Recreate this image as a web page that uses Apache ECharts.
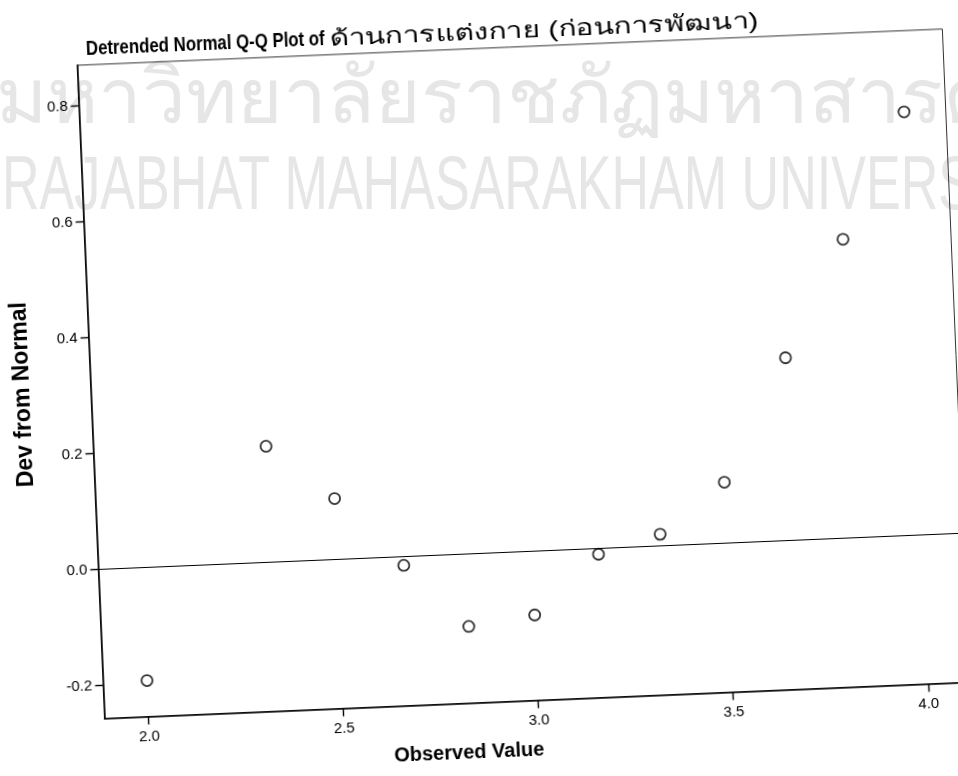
<!DOCTYPE html>
<html>
<head>
<meta charset="utf-8">
<script src="https://cdn.jsdelivr.net/npm/echarts@6/dist/echarts.min.js"></script>
<style>
html, body { margin: 0; padding: 0; background: #fff; overflow: hidden; }
#bg, #main { position: absolute; left: 0; top: 0; width: 958px; height: 776px; }
/* the scan is tilted a little, so the whole chart is turned with it */
#main { transform: rotate(-2.4deg); transform-origin: 523px 376px; }
</style>
</head>
<body>
<div id="bg"></div>
<div id="main"></div>
<script>
var observed = [2.00, 2.33, 2.50, 2.67, 2.83, 3.00, 3.17, 3.33, 3.50, 3.67, 3.83, 4.00];
var devFromNormal = [-0.195, 0.20, 0.105, -0.015, -0.125, -0.11, -0.01, 0.02, 0.105, 0.315, 0.515, 0.73];
var xTicks = [2.0, 2.5, 3.0, 3.5, 4.0];
var yTicks = [-0.2, 0.0, 0.2, 0.4, 0.6, 0.8];

var titleLatin = 'Detrended Normal Q-Q Plot of ';
var titleThai = 'ด้านการแต่งกาย (ก่อนการพัฒนา)';

var font = "'Liberation Sans', Arial, 'Noto Sans', 'DejaVu Sans', sans-serif";

// width of the latin part, so the thai part can follow it
var latinScale = 0.8;
var ctx = document.createElement('canvas').getContext('2d');
ctx.font = "bold 21px " + font;
var latinW = ctx.measureText(titleLatin).width * latinScale;

// watermark of the scanned page, not tilted
var bg = echarts.init(document.getElementById('bg'));
bg.setOption({
    graphic: [
        {
            type: 'text', left: -4, top: 62,
            style: { text: 'มหาวิทยาลัยราชภัฏมหาสารคาม', fontSize: 78, fill: '#e6e6e6', fontFamily: font }
        },
        {
            type: 'text', x: 2, y: 150, scaleX: 0.685,
            style: { text: 'RAJABHAT MAHASARAKHAM UNIVERSITY', fontSize: 76, fill: '#e6e6e6', fontFamily: font }
        }
    ]
});

var chart = echarts.init(document.getElementById('main'));
var points = observed.map(function (v, i) { return [v, devFromNormal[i]]; });

var option = {
    backgroundColor: 'transparent',
    animation: false,
    graphic: [
        {
            type: 'text', x: 100, y: 42, scaleX: latinScale,
            style: { text: titleLatin, fontSize: 21, fontWeight: 'bold', fill: '#000', fontFamily: font, verticalAlign: 'bottom' }
        },
        {
            type: 'text', x: 100 + latinW, y: 43, scaleX: 1.36,
            style: { text: titleThai, fontSize: 22, fill: '#000', fontFamily: font, verticalAlign: 'bottom' }
        }
    ],
    grid: {
        show: true,
        left: 90.5, top: 46.9, width: 866, height: 653.6,
        borderColor: '#333', borderWidth: 1
    },
    xAxis: {
        type: 'value',
        min: 1.887, max: 4.107,
        name: 'Observed Value',
        nameLocation: 'middle',
        nameGap: 40,
        nameTextStyle: { fontSize: 20, fontWeight: 'bold', color: '#000', fontFamily: font, padding: [0, 140, 0, 0] },
        axisLine: { onZero: false, lineStyle: { color: '#000', width: 1.6 } },
        axisTick: { customValues: xTicks, length: 8, lineStyle: { color: '#000', width: 1.4 } },
        axisLabel: {
            customValues: xTicks, margin: 13, fontSize: 15, color: '#000', fontFamily: font,
            formatter: function (v) { return v.toFixed(1); }
        },
        splitLine: { show: false }
    },
    yAxis: {
        type: 'value',
        min: -0.257, max: 0.87,
        name: 'Dev from Normal',
        nameLocation: 'middle',
        nameGap: 56,
        nameTextStyle: { fontSize: 23, fontWeight: 'bold', color: '#000', fontFamily: font },
        axisLine: { onZero: false, lineStyle: { color: '#000', width: 1.6 } },
        axisTick: { customValues: yTicks, length: 8, lineStyle: { color: '#000', width: 1.4 } },
        axisLabel: {
            customValues: yTicks, margin: 11, fontSize: 15, color: '#000', fontFamily: font,
            formatter: function (v) { return v.toFixed(1); }
        },
        splitLine: { show: false }
    },
    series: [
        {
            type: 'scatter',
            data: points,
            symbol: 'circle',
            symbolSize: 11,
            itemStyle: { color: '#fff', borderColor: '#000', borderWidth: 1.8 },
            markLine: {
                silent: true,
                symbol: 'none',
                label: { show: false },
                lineStyle: { color: '#000', width: 1.2, type: 'solid' },
                data: [{ yAxis: 0 }]
            }
        }
    ]
};
chart.setOption(option);
</script>
</body>
</html>
